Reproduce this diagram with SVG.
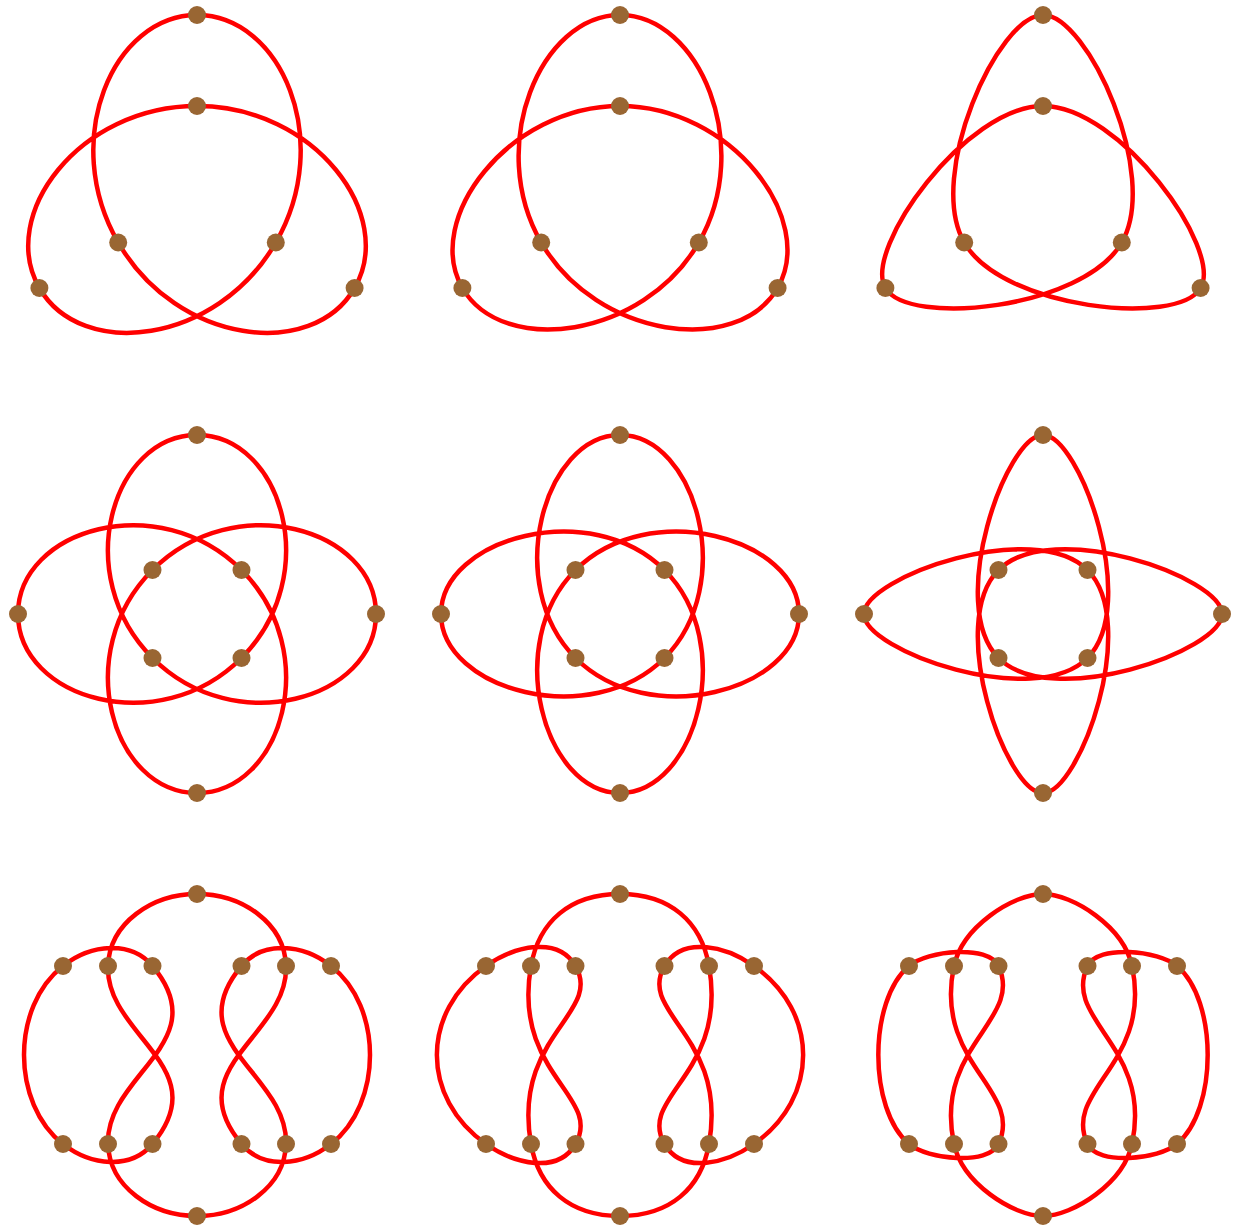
<svg xmlns="http://www.w3.org/2000/svg" width="1233" height="1230" viewBox="0 0 1233 1230">
<style>
.curve{fill:none;stroke:#ff0000;stroke-width:4.5;stroke-linejoin:round}
.dot{fill:#996633}
</style>
<rect width="1233" height="1230" fill="#ffffff"/>
<!-- Row 1 -->
<g id="panel-r1c1" transform="translate(197,197)">
<g id="r1c1-connectors"><path class="curve" d="M0,-182 C-84,-182 -137.8,-56.7 -78.8,45.5 C-19.8,147.7 115.6,163.7 157.6,91 C199.6,18.3 118,-91 0,-91 C-118,-91 -199.6,18.3 -157.6,91 C-115.6,163.7 19.8,147.7 78.8,45.5 C137.8,-56.7 84,-182 0,-182 Z"/></g>
<g id="r1c1-n1"><circle class="dot" cx="0" cy="-182" r="9"/></g>
<g id="r1c1-n2"><circle class="dot" cx="-78.8" cy="45.5" r="9"/></g>
<g id="r1c1-n3"><circle class="dot" cx="157.6" cy="91" r="9"/></g>
<g id="r1c1-n4"><circle class="dot" cx="0" cy="-91" r="9"/></g>
<g id="r1c1-n5"><circle class="dot" cx="-157.6" cy="91" r="9"/></g>
<g id="r1c1-n6"><circle class="dot" cx="78.8" cy="45.5" r="9"/></g>
</g>
<g id="panel-r1c2" transform="translate(620,197)">
<g id="r1c2-connectors"><path class="curve" d="M0,-182 C-79.4,-182 -134.4,-50.8 -78.8,45.5 C-23.2,141.8 117.9,159.8 157.6,91 C197.3,22.2 111.2,-91 0,-91 C-111.2,-91 -197.3,22.2 -157.6,91 C-117.9,159.8 23.2,141.8 78.8,45.5 C134.4,-50.8 79.4,-182 0,-182 Z"/></g>
<g id="r1c2-n1"><circle class="dot" cx="0" cy="-182" r="9"/></g>
<g id="r1c2-n2"><circle class="dot" cx="-78.8" cy="45.5" r="9"/></g>
<g id="r1c2-n3"><circle class="dot" cx="157.6" cy="91" r="9"/></g>
<g id="r1c2-n4"><circle class="dot" cx="0" cy="-91" r="9"/></g>
<g id="r1c2-n5"><circle class="dot" cx="-157.6" cy="91" r="9"/></g>
<g id="r1c2-n6"><circle class="dot" cx="78.8" cy="45.5" r="9"/></g>
</g>
<g id="panel-r1c3" transform="translate(1043,197)">
<g id="r1c3-connectors"><path class="curve" d="M0,-182 C-45,-182 -117.3,-21.2 -78.8,45.5 C-40.3,112.2 135.1,130 157.6,91 C180.1,52 77,-91 0,-91 C-77,-91 -180.1,52 -157.6,91 C-135.1,130 40.3,112.2 78.8,45.5 C117.3,-21.2 45,-182 0,-182 Z"/></g>
<g id="r1c3-n1"><circle class="dot" cx="0" cy="-182" r="9"/></g>
<g id="r1c3-n2"><circle class="dot" cx="-78.8" cy="45.5" r="9"/></g>
<g id="r1c3-n3"><circle class="dot" cx="157.6" cy="91" r="9"/></g>
<g id="r1c3-n4"><circle class="dot" cx="0" cy="-91" r="9"/></g>
<g id="r1c3-n5"><circle class="dot" cx="-157.6" cy="91" r="9"/></g>
<g id="r1c3-n6"><circle class="dot" cx="78.8" cy="45.5" r="9"/></g>
</g>
<!-- Row 2 -->
<g id="panel-r2c1" transform="translate(197,614)">
<g id="r2c1-connectors"><path class="curve" d="M0,-179 C-84.7,-179 -127.1,-38.6 -44.5,44 C38.1,126.6 179,84.7 179,0 C179,-84.7 38.1,-126.6 -44.5,-44 C-127.1,38.6 -84.7,179 0,179 C84.7,179 127.1,38.6 44.5,-44 C-38.1,-126.6 -179,-84.7 -179,0 C-179,84.7 -38.1,126.6 44.5,44 C127.1,-38.6 84.7,-179 0,-179 Z"/></g>
<g id="r2c1-n1"><circle class="dot" cx="0" cy="-179" r="9"/></g>
<g id="r2c1-n2"><circle class="dot" cx="-44.5" cy="44" r="9"/></g>
<g id="r2c1-n3"><circle class="dot" cx="179" cy="0" r="9"/></g>
<g id="r2c1-n4"><circle class="dot" cx="-44.5" cy="-44" r="9"/></g>
<g id="r2c1-n5"><circle class="dot" cx="0" cy="179" r="9"/></g>
<g id="r2c1-n6"><circle class="dot" cx="44.5" cy="-44" r="9"/></g>
<g id="r2c1-n7"><circle class="dot" cx="-179" cy="0" r="9"/></g>
<g id="r2c1-n8"><circle class="dot" cx="44.5" cy="44" r="9"/></g>
</g>
<g id="panel-r2c2" transform="translate(620,614)">
<g id="r2c2-connectors"><path class="curve" d="M0,-179 C-76,-179 -118,-29.5 -44.5,44 C29,117.5 179,76 179,0 C179,-76 29,-117.5 -44.5,-44 C-118,29.5 -76,179 0,179 C76,179 118,29.5 44.5,-44 C-29,-117.5 -179,-76 -179,0 C-179,76 -29,117.5 44.5,44 C118,-29.5 76,-179 0,-179 Z"/></g>
<g id="r2c2-n1"><circle class="dot" cx="0" cy="-179" r="9"/></g>
<g id="r2c2-n2"><circle class="dot" cx="-44.5" cy="44" r="9"/></g>
<g id="r2c2-n3"><circle class="dot" cx="179" cy="0" r="9"/></g>
<g id="r2c2-n4"><circle class="dot" cx="-44.5" cy="-44" r="9"/></g>
<g id="r2c2-n5"><circle class="dot" cx="0" cy="179" r="9"/></g>
<g id="r2c2-n6"><circle class="dot" cx="44.5" cy="-44" r="9"/></g>
<g id="r2c2-n7"><circle class="dot" cx="-179" cy="0" r="9"/></g>
<g id="r2c2-n8"><circle class="dot" cx="44.5" cy="44" r="9"/></g>
</g>
<g id="panel-r2c3" transform="translate(1043,614)">
<g id="r2c3-connectors"><path class="curve" d="M0,-179 C-37,-179 -97.2,-8.7 -44.5,44 C8.2,96.7 179,37 179,0 C179,-37 8.2,-96.7 -44.5,-44 C-97.2,8.7 -37,179 0,179 C37,179 97.2,8.7 44.5,-44 C-8.2,-96.7 -179,-37 -179,0 C-179,37 -8.2,96.7 44.5,44 C97.2,-8.7 37,-179 0,-179 Z"/></g>
<g id="r2c3-n1"><circle class="dot" cx="0" cy="-179" r="9"/></g>
<g id="r2c3-n2"><circle class="dot" cx="-44.5" cy="44" r="9"/></g>
<g id="r2c3-n3"><circle class="dot" cx="179" cy="0" r="9"/></g>
<g id="r2c3-n4"><circle class="dot" cx="-44.5" cy="-44" r="9"/></g>
<g id="r2c3-n5"><circle class="dot" cx="0" cy="179" r="9"/></g>
<g id="r2c3-n6"><circle class="dot" cx="44.5" cy="-44" r="9"/></g>
<g id="r2c3-n7"><circle class="dot" cx="-179" cy="0" r="9"/></g>
<g id="r2c3-n8"><circle class="dot" cx="44.5" cy="44" r="9"/></g>
</g>
<!-- Row 3 -->
<g id="panel-r3c1" transform="translate(197,1055)">
<g id="r3c1-connectors"><path class="curve" d="M0,-161 C-45,-161 -87.5,-132 -89,-89 C-91.4,-19 19.8,12.4 -44.5,89 C-66.1,114.7 -105.8,111 -134,89 C-186,48.4 -186,-48.4 -134,-89 C-105.8,-111 -66.1,-114.7 -44.5,-89 C19.8,-12.4 -91.4,19 -89,89 C-87.5,132 -45,161 0,161 C45,161 87.5,132 89,89 C91.4,19 -19.8,-12.4 44.5,-89 C66.1,-114.7 105.8,-111 134,-89 C186,-48.4 186,48.4 134,89 C105.8,111 66.1,114.7 44.5,89 C-19.8,12.4 91.4,-19 89,-89 C87.5,-132 45,-161 0,-161 Z"/></g>
<g id="r3c1-n1"><circle class="dot" cx="0" cy="-161" r="9"/></g>
<g id="r3c1-n2"><circle class="dot" cx="-89" cy="-89" r="9"/></g>
<g id="r3c1-n3"><circle class="dot" cx="-44.5" cy="89" r="9"/></g>
<g id="r3c1-n4"><circle class="dot" cx="-134" cy="89" r="9"/></g>
<g id="r3c1-n5"><circle class="dot" cx="-134" cy="-89" r="9"/></g>
<g id="r3c1-n6"><circle class="dot" cx="-44.5" cy="-89" r="9"/></g>
<g id="r3c1-n7"><circle class="dot" cx="-89" cy="89" r="9"/></g>
<g id="r3c1-n8"><circle class="dot" cx="0" cy="161" r="9"/></g>
<g id="r3c1-n9"><circle class="dot" cx="89" cy="89" r="9"/></g>
<g id="r3c1-n10"><circle class="dot" cx="44.5" cy="-89" r="9"/></g>
<g id="r3c1-n11"><circle class="dot" cx="134" cy="-89" r="9"/></g>
<g id="r3c1-n12"><circle class="dot" cx="134" cy="89" r="9"/></g>
<g id="r3c1-n13"><circle class="dot" cx="44.5" cy="89" r="9"/></g>
<g id="r3c1-n14"><circle class="dot" cx="89" cy="-89" r="9"/></g>
</g>
<g id="panel-r3c2" transform="translate(620,1055)">
<g id="r3c2-connectors"><path class="curve" d="M0,-161 C-50,-161 -81.2,-133.3 -89,-89 C-108.1,19.3 -17,41.4 -44.5,89 C-62,119.3 -105.3,109.1 -134,89 C-199.5,43.1 -199.5,-43.1 -134,-89 C-105.3,-109.1 -62,-119.3 -44.5,-89 C-17,-41.4 -108.1,-19.3 -89,89 C-81.2,133.3 -50,161 0,161 C50,161 81.2,133.3 89,89 C108.1,-19.3 17,-41.4 44.5,-89 C62,-119.3 105.3,-109.1 134,-89 C199.5,-43.1 199.5,43.1 134,89 C105.3,109.1 62,119.3 44.5,89 C17,41.4 108.1,19.3 89,-89 C81.2,-133.3 50,-161 0,-161 Z"/></g>
<g id="r3c2-n1"><circle class="dot" cx="0" cy="-161" r="9"/></g>
<g id="r3c2-n2"><circle class="dot" cx="-89" cy="-89" r="9"/></g>
<g id="r3c2-n3"><circle class="dot" cx="-44.5" cy="89" r="9"/></g>
<g id="r3c2-n4"><circle class="dot" cx="-134" cy="89" r="9"/></g>
<g id="r3c2-n5"><circle class="dot" cx="-134" cy="-89" r="9"/></g>
<g id="r3c2-n6"><circle class="dot" cx="-44.5" cy="-89" r="9"/></g>
<g id="r3c2-n7"><circle class="dot" cx="-89" cy="89" r="9"/></g>
<g id="r3c2-n8"><circle class="dot" cx="0" cy="161" r="9"/></g>
<g id="r3c2-n9"><circle class="dot" cx="89" cy="89" r="9"/></g>
<g id="r3c2-n10"><circle class="dot" cx="44.5" cy="-89" r="9"/></g>
<g id="r3c2-n11"><circle class="dot" cx="134" cy="-89" r="9"/></g>
<g id="r3c2-n12"><circle class="dot" cx="134" cy="89" r="9"/></g>
<g id="r3c2-n13"><circle class="dot" cx="44.5" cy="89" r="9"/></g>
<g id="r3c2-n14"><circle class="dot" cx="89" cy="-89" r="9"/></g>
</g>
<g id="panel-r3c3" transform="translate(1043,1055)">
<g id="r3c3-connectors"><path class="curve" d="M0,-161 C-30,-161 -80.7,-128.1 -89,-89 C-109.8,8.8 -19.1,34.6 -44.5,89 C-54.6,110.8 -115.6,104.4 -134,89 C-174.9,54.7 -174.9,-54.7 -134,-89 C-115.6,-104.4 -54.6,-110.8 -44.5,-89 C-19.1,-34.6 -109.8,-8.8 -89,89 C-80.7,128.1 -30,161 0,161 C30,161 80.7,128.1 89,89 C109.8,-8.8 19.1,-34.6 44.5,-89 C54.6,-110.8 115.6,-104.4 134,-89 C174.9,-54.7 174.9,54.7 134,89 C115.6,104.4 54.6,110.8 44.5,89 C19.1,34.6 109.8,8.8 89,-89 C80.7,-128.1 30,-161 0,-161 Z"/></g>
<g id="r3c3-n1"><circle class="dot" cx="0" cy="-161" r="9"/></g>
<g id="r3c3-n2"><circle class="dot" cx="-89" cy="-89" r="9"/></g>
<g id="r3c3-n3"><circle class="dot" cx="-44.5" cy="89" r="9"/></g>
<g id="r3c3-n4"><circle class="dot" cx="-134" cy="89" r="9"/></g>
<g id="r3c3-n5"><circle class="dot" cx="-134" cy="-89" r="9"/></g>
<g id="r3c3-n6"><circle class="dot" cx="-44.5" cy="-89" r="9"/></g>
<g id="r3c3-n7"><circle class="dot" cx="-89" cy="89" r="9"/></g>
<g id="r3c3-n8"><circle class="dot" cx="0" cy="161" r="9"/></g>
<g id="r3c3-n9"><circle class="dot" cx="89" cy="89" r="9"/></g>
<g id="r3c3-n10"><circle class="dot" cx="44.5" cy="-89" r="9"/></g>
<g id="r3c3-n11"><circle class="dot" cx="134" cy="-89" r="9"/></g>
<g id="r3c3-n12"><circle class="dot" cx="134" cy="89" r="9"/></g>
<g id="r3c3-n13"><circle class="dot" cx="44.5" cy="89" r="9"/></g>
<g id="r3c3-n14"><circle class="dot" cx="89" cy="-89" r="9"/></g>
</g>
</svg>
